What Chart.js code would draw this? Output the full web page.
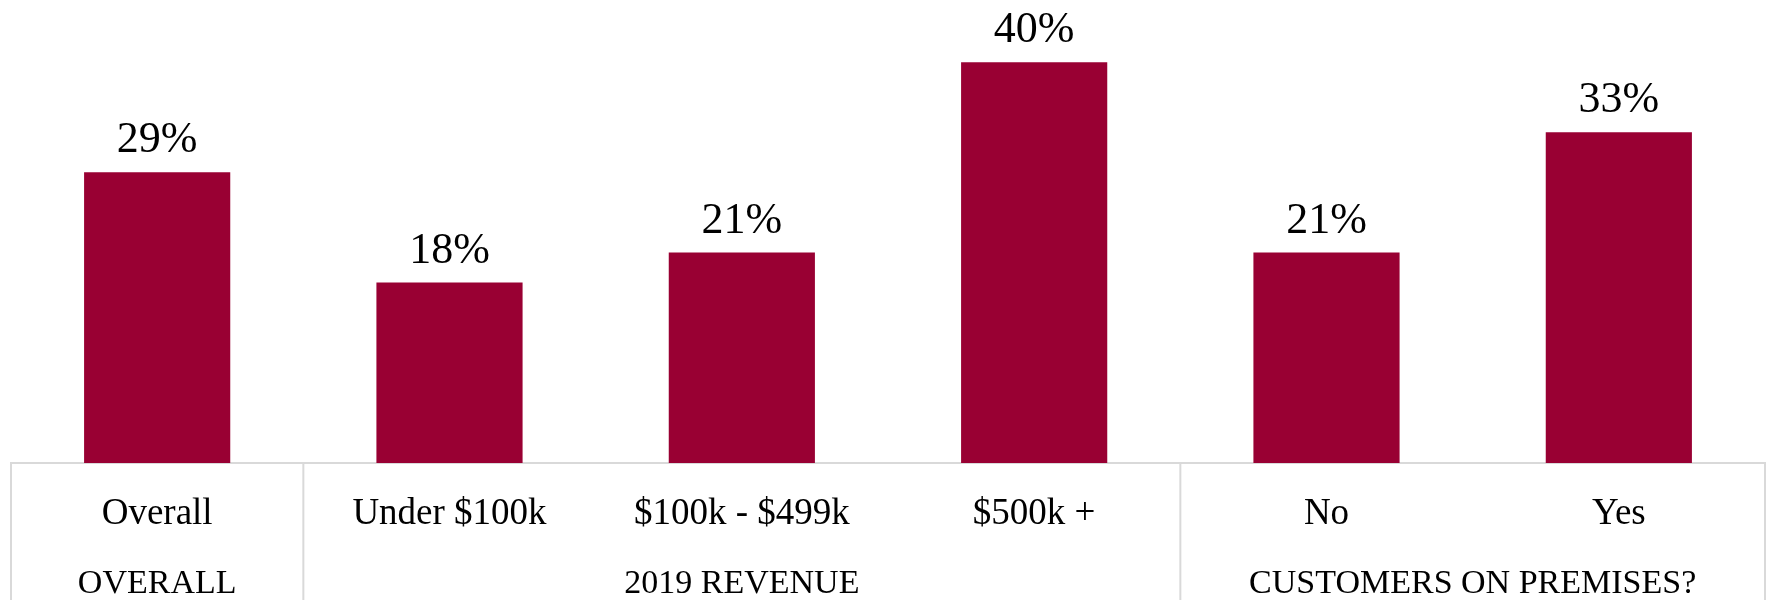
<!DOCTYPE html>
<html>
<head>
<meta charset="utf-8">
<script src="https://cdn.jsdelivr.net/npm/chart.js@4/dist/chart.umd.min.js"></script>
<style>
  html, body { margin: 0; padding: 0; background: #ffffff; }
  #wrap { width: 1766px; height: 600px; position: relative; }
</style>
</head>
<body>
<div id="wrap"><canvas id="chart" width="1766" height="600"></canvas></div>
<script>
// Share of businesses, by segment
const categories = ['Overall', 'Under $100k', '$100k - $499k', '$500k +', 'No', 'Yes'];
const values = [29, 18, 21, 40, 21, 33];
const groupLabels = ['OVERALL', '2019 REVENUE', 'CUSTOMERS ON PREMISES?'];
const groupSizes = [1, 3, 2];

const BAR_COLOR = '#990033';
const LINE_COLOR = '#d9d9d9';
const FONT_FAMILY = '"Liberation Serif", "DejaVu Serif", serif';

// Value labels above each bar
const valueLabels = {
  id: 'valueLabels',
  afterDatasetsDraw(chart) {
    const ctx = chart.ctx;
    const meta = chart.getDatasetMeta(0);
    ctx.save();
    ctx.font = '44px ' + FONT_FAMILY;
    ctx.fillStyle = '#000000';
    ctx.textAlign = 'center';
    ctx.textBaseline = 'alphabetic';
    meta.data.forEach((bar, i) => {
      ctx.fillText(values[i] + '%', bar.x, bar.y - 20);
    });
    ctx.restore();
  }
};

// Group boxes and group captions under the category labels
const groupAxis = {
  id: 'groupAxis',
  afterDraw(chart) {
    const ctx = chart.ctx;
    const x = chart.scales.x;
    const top = chart.chartArea.bottom;
    const bottom = chart.height;
    const half = (x.getPixelForValue(1) - x.getPixelForValue(0)) / 2;
    ctx.save();
    ctx.strokeStyle = LINE_COLOR;
    ctx.lineWidth = 2;
    let start = 0;
    const edges = [x.getPixelForValue(0) - half];
    groupSizes.forEach(size => {
      const end = start + size - 1;
      edges.push(x.getPixelForValue(end) + half);
      start += size;
    });
    edges.forEach(px => {
      ctx.beginPath();
      ctx.moveTo(px, top);
      ctx.lineTo(px, bottom);
      ctx.stroke();
    });
    ctx.font = '34px ' + FONT_FAMILY;
    ctx.fillStyle = '#000000';
    ctx.textAlign = 'center';
    ctx.textBaseline = 'alphabetic';
    start = 0;
    groupLabels.forEach((label, g) => {
      const end = start + groupSizes[g] - 1;
      const cx = (x.getPixelForValue(start) + x.getPixelForValue(end)) / 2;
      ctx.fillText(label, cx, 593);
      start += groupSizes[g];
    });
    ctx.restore();
  }
};

new Chart(document.getElementById('chart'), {
  type: 'bar',
  data: {
    labels: categories,
    datasets: [{
      data: values,
      backgroundColor: BAR_COLOR,
      borderWidth: 0,
      categoryPercentage: 1.0,
      barPercentage: 0.5
    }]
  },
  options: {
    responsive: false,
    animation: false,
    devicePixelRatio: 1,
    layout: { padding: { left: 11, right: 1, top: 2, bottom: 0 } },
    plugins: {
      legend: { display: false },
      tooltip: { enabled: false },
      title: { display: false }
    },
    scales: {
      x: {
        afterFit(scale) { scale.height = 137; },
        grid: { display: false, drawTicks: false },
        border: { display: true, color: LINE_COLOR, width: 2 },
        ticks: {
          color: '#000000',
          padding: 29,
          maxRotation: 0,
          autoSkip: false,
          font: { family: FONT_FAMILY, size: 37 }
        }
      },
      y: {
        display: false,
        min: 0,
        max: 46
      }
    }
  },
  plugins: [valueLabels, groupAxis]
});
</script>
</body>
</html>
